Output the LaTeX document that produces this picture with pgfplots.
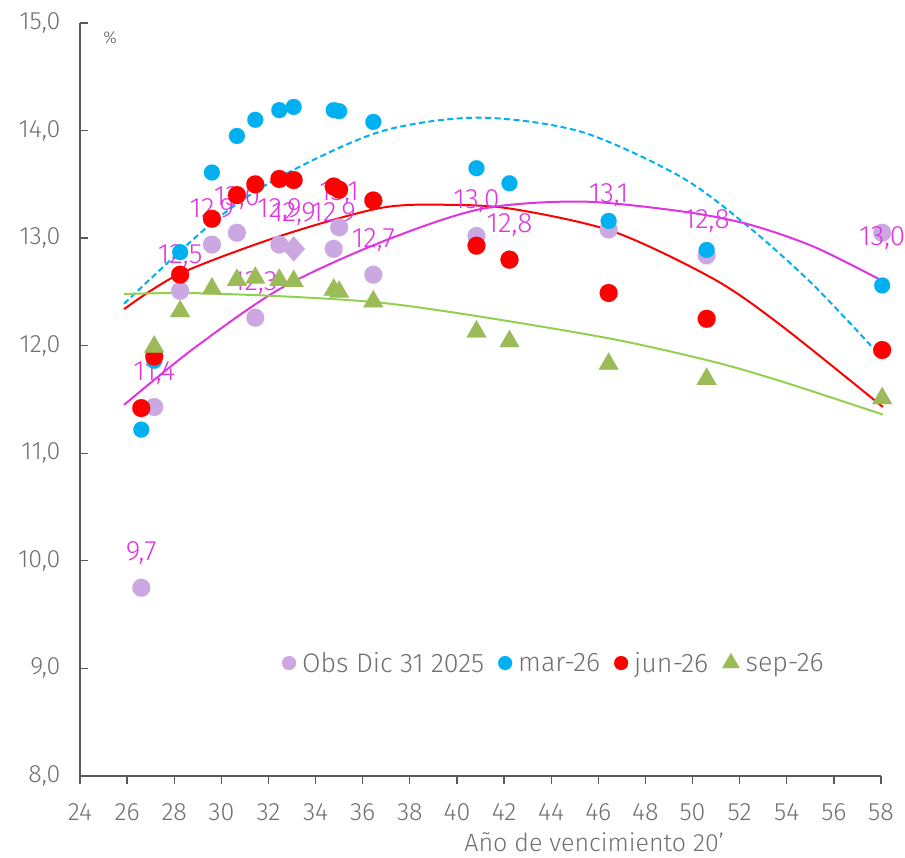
\documentclass[border=0pt]{standalone}
\usepackage{fontspec}
\setmainfont{Fira Sans Light}
\usepackage{pgfplots}
\pgfplotsset{compat=1.18}
\usepackage{pgfplotstable}
\definecolor{lav}{RGB}{204,168,226}
\definecolor{cblue}{RGB}{0,176,240}
\definecolor{cred}{RGB}{255,0,0}
\definecolor{grn}{RGB}{155,187,89}
\definecolor{grnline}{RGB}{146,208,80}
\definecolor{mag}{RGB}{224,52,224}
\definecolor{axgray}{RGB}{89,89,89}
\definecolor{txtgray}{RGB}{112,112,112}

\pgfplotstableread{
x y lab ys
26.6 9.75 9.7 27
27.15 11.43 11.4 27
28.25 12.51 12.5 27
29.6 12.94 12.9 27
30.66 13.05 13.0 27
31.44 12.26 12.3 27
32.46 12.94 12.9 27
34.77 12.90 12.9 27
35.0 13.10 13.1 27
36.45 12.66 12.7 27
40.83 13.02 13.0 27
42.23 12.80 12.8 27
46.44 13.08 13.1 27
50.6 12.84 12.8 27
58.05 13.05 13.0 -13
}\obs

\pgfplotstableread{
x y lab ys
33.07 12.90 12.9 27
}\obsdia

\pgfplotstableread{
x y
26.6 11.22
27.15 11.86
28.25 12.87
29.6 13.61
30.66 13.95
31.44 14.10
32.46 14.19
33.07 14.22
34.77 14.19
35.0 14.18
36.45 14.08
40.83 13.65
42.23 13.51
46.44 13.16
50.6 12.89
58.05 12.56
}\mar

\pgfplotstableread{
x y
26.6 11.42
27.15 11.90
28.25 12.66
29.6 13.18
30.66 13.40
31.44 13.50
32.46 13.55
33.07 13.54
34.77 13.48
35.0 13.45
36.45 13.35
40.83 12.93
42.23 12.80
46.44 12.49
50.6 12.25
58.05 11.96
}\jun

\pgfplotstableread{
x y
27.15 11.99
28.25 12.32
29.6 12.53
30.66 12.61
31.44 12.63
32.46 12.61
33.07 12.60
34.77 12.52
35.0 12.50
36.45 12.41
40.83 12.13
42.23 12.04
46.44 11.83
50.6 11.69
58.05 11.51
}\sep

\begin{document}
\begin{tikzpicture}
\path[use as bounding box] (-80pt,-82pt) rectangle (825pt,776pt);
\begin{axis}[
  at={(0pt,0pt)}, anchor=south west,
  scale only axis, width=801pt, height=753pt,
  xmin=24, xmax=58, ymin=8, ymax=15,
  clip=false,
  axis x line=bottom, axis y line=left,
  axis line style={axgray, line width=1.5pt, -},
  xtick={24,26,...,58}, ytick={8,9,...,15},
  x tick style={axgray, line width=1.3pt}, y tick style={axgray, line width=1.3pt},
  xtick align=outside, ytick align=inside,
  major tick length=8pt,
  tick label style={font=\fontsize{25}{30}\selectfont, text=txtgray},
  /pgf/number format/assume math mode=true,
  yticklabel style={xshift=-16pt, /pgf/number format/.cd, fixed, fixed zerofill, precision=1, use comma},
  xticklabel style={yshift=-16pt},
  xlabel={Año de vencimiento 20’},
  xlabel style={at={(axis description cs:0.642,0)}, anchor=center, yshift=-66pt, font=\fontsize{25}{30}\selectfont, text=txtgray},
  legend style={draw=none, fill=none, at={(axis description cs:0.252,0.15)}, anchor=west,
     font=\fontsize{26.8}{30}\selectfont, text=txtgray, inner sep=0pt,
     /tikz/every odd column/.append style={column sep=4pt},
     /tikz/every even column/.append style={column sep=12pt}},
  legend columns=-1,
  legend image code/.code={\draw[mark repeat=2,mark phase=2,#1] plot coordinates {(0pt,0pt) (7pt,0pt) (14pt,0pt)};},
]
% Observed
\addplot[only marks, color=lav, mark=*, mark size=9pt, mark options={draw=lav, fill=lav, line width=0.1pt},
  legend image post style={mark size=7pt},
  point meta=explicit, visualization depends on={\thisrow{ys} \as \ys},
  nodes near coords={\pgfmathprintnumber[fixed,fixed zerofill,precision=1,use comma,assume math mode=true]{\pgfplotspointmeta}},
  every node near coord/.append style={anchor=base, yshift=\ys pt, text=mag, font=\fontsize{28}{30}\selectfont, inner sep=0pt}]
  table[x=x, y=y, meta=lab] {\obs};
\addlegendentry{Obs Dic 31 2025}
\addplot[only marks, color=cblue, mark=*, mark size=8pt, mark options={draw=cblue, fill=cblue, line width=0.1pt},
  legend image post style={mark size=7pt}] table[x=x,y=y] {\mar};
\addlegendentry{mar-26}
\addplot[only marks, color=cred, mark=*, mark size=9pt, mark options={draw=cred, fill=cred, line width=0.1pt},
  legend image post style={mark size=7pt}] table[x=x,y=y] {\jun};
\addlegendentry{jun-26}
\addplot[only marks, color=grn, mark=triangle*, mark size=11.5pt, mark options={draw=grn, fill=grn, line width=0.1pt},
  legend image post style={mark size=10pt}] table[x=x,y=y] {\sep};
\addlegendentry{sep-26}
% diamond point
\addplot[forget plot, only marks, color=lav, mark=diamond*, mark size=12.5pt, mark options={draw=lav, fill=lav, line width=0.1pt, xscale=1.2},
  point meta=explicit, visualization depends on={\thisrow{ys} \as \ys},
  nodes near coords={\pgfmathprintnumber[fixed,fixed zerofill,precision=1,use comma,assume math mode=true]{\pgfplotspointmeta}},
  every node near coord/.append style={anchor=base, yshift=\ys pt, text=mag, font=\fontsize{28}{30}\selectfont, inner sep=0pt}]
  table[x=x, y=y, meta=lab] {\obsdia};
% trend lines
\addplot[forget plot, cblue, line width=2pt, dash pattern=on 6pt off 3.5pt, smooth, no marks] coordinates {
(25.87,12.39) (29.65,13.15) (32.5,13.57) (36.75,13.99) (40.9,14.12) (45.25,13.99) (49.5,13.57) (52.35,13.11) (55.15,12.56) (58.08,11.88)};
\addplot[forget plot, cred, line width=2pt, smooth, no marks] coordinates {
(25.87,12.34) (28.25,12.67) (32.5,13.02) (36.75,13.28) (39.6,13.31) (42.4,13.27) (46.65,13.06) (50.9,12.62) (53.75,12.19) (58.08,11.43)};
\addplot[forget plot, mag, line width=2pt, smooth, no marks] coordinates {
(25.87,11.45) (28.8,11.97) (32.5,12.53) (36.75,12.96) (41,13.27) (45.25,13.34) (49.5,13.25) (52.35,13.13) (55.15,12.92) (58.08,12.6)};
\addplot[forget plot, grnline, line width=2pt, smooth, no marks] coordinates {
(25.87,12.48) (28.5,12.49) (32.5,12.46) (36.75,12.40) (41,12.27) (46.65,12.06) (50.9,11.85) (53.75,11.67) (58.08,11.36)};
\node[anchor=center, text=axgray, font=\fontsize{17}{20}\selectfont] at (axis description cs:0.0375,0.981) {\%};
\end{axis}
\end{tikzpicture}
\end{document}
